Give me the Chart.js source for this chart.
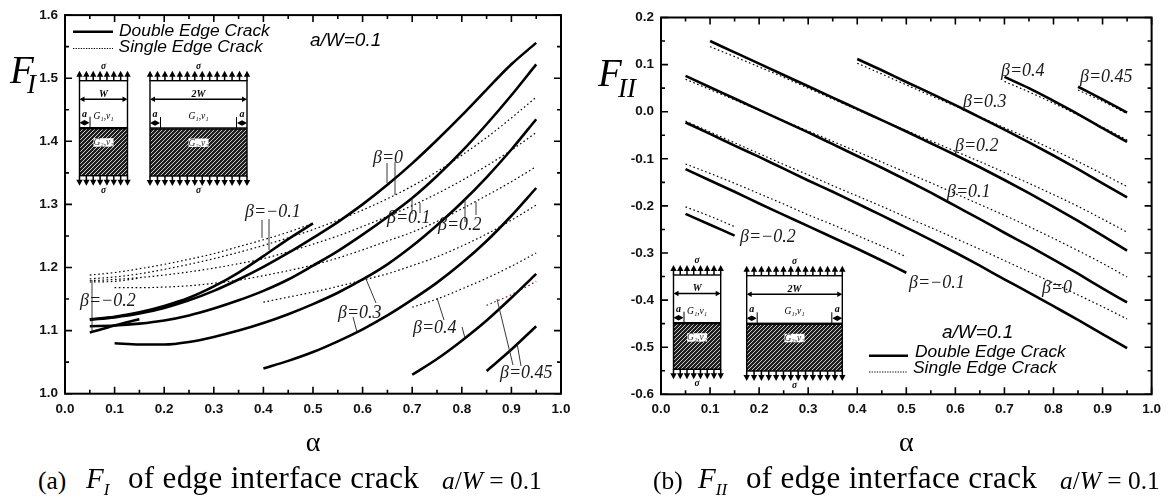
<!DOCTYPE html>
<html>
<head>
<meta charset="utf-8">
<title>Edge interface crack</title>
<script src="https://cdn.jsdelivr.net/npm/chart.js@4/dist/chart.umd.min.js"></script>
<style>
  html, body { margin: 0; padding: 0; background: #fff; }
  body { position: relative; width: 1168px; height: 500px; overflow: hidden; }
  canvas { position: absolute; top: 0; }
  #chartA { left: 0; }
  #chartB { left: 590px; }
  .cap { position: absolute; font-family: "Liberation Serif", serif; font-size: 25.4px; line-height: 40px; top: 459.6px; color: #000; white-space: pre; }
  .cap.big { font-size: 31px; top: 457.5px; letter-spacing: 0.35px; }
  .cap.name { font-size: 29px; top: 458px; }
  .cap i sub { font-size: 17px; line-height: 0; }
</style>
</head>
<body>
<canvas id="chartA" width="590" height="460"></canvas>
<canvas id="chartB" width="578" height="460"></canvas>
<div class="cap" style="left:38px">(a)</div>
<div class="cap name" style="left:86px"><i>F<sub>I</sub></i></div>
<div class="cap big" style="left:128px">of edge interface crack</div>
<div class="cap" style="left:442px"><i>a</i>/<i>W</i> = 0.1</div>
<div class="cap" style="left:653px">(b)</div>
<div class="cap name" style="left:698px"><i>F<sub>II</sub></i></div>
<div class="cap big" style="left:746px">of edge interface crack</div>
<div class="cap" style="left:1060px"><i>a</i>/<i>W</i> = 0.1</div>

<script>
// crack length ratio alpha, shared by every curve (null = curve not computed there)
const alpha = [0.05, 0.1, 0.15, 0.2, 0.25, 0.3, 0.35, 0.4, 0.45, 0.5, 0.55, 0.6, 0.65, 0.7, 0.75, 0.8, 0.85, 0.9, 0.95];
const _ = null;

const xTickLabels = ['0.0', '0.1', '0.2', '0.3', '0.4', '0.5', '0.6', '0.7', '0.8', '0.9', '1.0'];
const fiTickLabels = ['1.0', '1.1', '1.2', '1.3', '1.4', '1.5', '1.6'];
const fiiTickLabels = ['-0.6', '-0.5', '-0.4', '-0.3', '-0.2', '-0.1', '0.0', '0.1', '0.2'];

// panel (a) F_I, double edge crack
const fiDoubleM02 = [1.097, 1.108, 1.118];
const fiDoubleM01 = [1.118, 1.122, 1.129, 1.139, 1.152, 1.17, 1.192, 1.218, 1.245, 1.27];
const fiDouble00 = [1.117, 1.121, 1.127, 1.136, 1.148, 1.163, 1.181, 1.201, 1.223, 1.247, 1.272, 1.3, 1.331, 1.365, 1.402, 1.441, 1.482, 1.522, 1.556];
const fiDouble01 = [1.107, 1.108, 1.111, 1.116, 1.124, 1.135, 1.148, 1.163, 1.181, 1.203, 1.226, 1.252, 1.28, 1.31, 1.345, 1.384, 1.427, 1.473, 1.522];
const fiDouble02 = [_, 1.08, 1.078, 1.078, 1.082, 1.09, 1.1, 1.112, 1.126, 1.142, 1.16, 1.181, 1.205, 1.234, 1.267, 1.303, 1.343, 1.387, 1.435];
const fiDouble03 = [_, _, _, _, _, _, _, 1.04, 1.052, 1.066, 1.083, 1.102, 1.124, 1.149, 1.176, 1.207, 1.242, 1.282, 1.326];
const fiDouble04 = [_, _, _, _, _, _, _, _, _, _, _, _, _, 1.03, 1.055, 1.084, 1.116, 1.152, 1.19];
const fiDouble045 = [_, _, _, _, _, _, _, _, _, _, _, _, _, _, _, _, 1.036, 1.07, 1.107];

// panel (a) F_I, single edge crack
const fiSingleM02 = [1.177, 1.178, 1.183];
const fiSingleM01 = [1.188, 1.192, 1.198, 1.205, 1.213, 1.222, 1.233, 1.244, 1.256, 1.27];
const fiSingle00 = [1.182, 1.185, 1.19, 1.197, 1.205, 1.214, 1.224, 1.235, 1.247, 1.26, 1.275, 1.291, 1.309, 1.329, 1.352, 1.378, 1.406, 1.437, 1.47];
const fiSingle01 = [1.179, 1.181, 1.184, 1.188, 1.193, 1.199, 1.206, 1.214, 1.225, 1.237, 1.25, 1.265, 1.281, 1.298, 1.317, 1.338, 1.361, 1.386, 1.414];
const fiSingle02 = [_, 1.168, 1.168, 1.169, 1.171, 1.175, 1.18, 1.187, 1.195, 1.204, 1.215, 1.228, 1.242, 1.256, 1.273, 1.293, 1.314, 1.336, 1.36];
const fiSingle03 = [_, _, _, _, _, _, _, 1.145, 1.153, 1.161, 1.17, 1.18, 1.19, 1.203, 1.217, 1.234, 1.253, 1.275, 1.299];
const fiSingle04 = [_, _, _, _, _, _, _, _, _, _, _, _, _, 1.137, 1.15, 1.166, 1.183, 1.202, 1.223];
const fiSingle045 = [_, _, _, _, _, _, _, _, _, _, _, _, _, _, _, _, 1.14, 1.157, 1.178];

// panel (b) F_II, double edge crack
const fiiDoubleM02 = [-0.217, -0.24, -0.263];
const fiiDoubleM01 = [-0.122, -0.146, -0.17, -0.195, -0.219, -0.243, -0.267, -0.291, -0.316, -0.342];
const fiiDouble00 = [-0.023, -0.047, -0.072, -0.096, -0.121, -0.146, -0.17, -0.195, -0.22, -0.246, -0.272, -0.299, -0.327, -0.356, -0.384, -0.413, -0.442, -0.472, -0.502];
const fiiDouble01 = [0.076, 0.052, 0.028, 0.004, -0.02, -0.044, -0.069, -0.094, -0.119, -0.145, -0.172, -0.2, -0.228, -0.257, -0.285, -0.314, -0.344, -0.375, -0.405];
const fiiDouble02 = [_, 0.15, 0.126, 0.102, 0.078, 0.054, 0.03, 0.006, -0.018, -0.042, -0.067, -0.092, -0.118, -0.145, -0.173, -0.202, -0.232, -0.263, -0.295];
const fiiDouble03 = [_, _, _, _, _, _, _, 0.112, 0.088, 0.063, 0.039, 0.014, -0.012, -0.038, -0.065, -0.093, -0.122, -0.152, -0.182];
const fiiDouble04 = [_, _, _, _, _, _, _, _, _, _, _, _, _, 0.074, 0.05, 0.023, -0.005, -0.035, -0.064];
const fiiDouble045 = [_, _, _, _, _, _, _, _, _, _, _, _, _, _, _, _, 0.053, 0.026, -0.002];

// panel (b) F_II, single edge crack
const fiiSingleM02 = [-0.202, -0.222, -0.244];
const fiiSingleM01 = [-0.111, -0.131, -0.152, -0.174, -0.196, -0.219, -0.24, -0.263, -0.285, -0.308];
const fiiSingle00 = [-0.02, -0.043, -0.066, -0.089, -0.112, -0.134, -0.157, -0.179, -0.201, -0.224, -0.246, -0.269, -0.292, -0.316, -0.34, -0.364, -0.389, -0.414, -0.44];
const fiiSingle01 = [0.069, 0.047, 0.025, 0.003, -0.019, -0.041, -0.063, -0.085, -0.107, -0.129, -0.151, -0.174, -0.197, -0.22, -0.244, -0.269, -0.295, -0.322, -0.351];
const fiiSingle02 = [_, 0.138, 0.117, 0.095, 0.073, 0.05, 0.027, 0.004, -0.018, -0.04, -0.062, -0.084, -0.106, -0.129, -0.152, -0.176, -0.201, -0.228, -0.256];
const fiiSingle03 = [_, _, _, _, _, _, _, 0.103, 0.08, 0.057, 0.034, 0.012, -0.011, -0.034, -0.057, -0.081, -0.106, -0.132, -0.159];
const fiiSingle04 = [_, _, _, _, _, _, _, _, _, _, _, _, _, 0.064, 0.042, 0.018, -0.007, -0.033, -0.06];
const fiiSingle045 = [_, _, _, _, _, _, _, _, _, _, _, _, _, _, _, _, 0.046, 0.022, -0.004];

const legendDouble = 'Double Edge Crack';
const legendSingle = 'Single Edge Crack';
const ratioLabel = 'a/W=0.1';

// curve labels and their leader lines, in canvas pixels
const betaLabelsA = [
  ['β=−0.1', 245, 217], ['β=0', 373, 163], ['β=0.1', 387, 223], ['β=0.2', 438, 230],
  ['β=0.3', 338, 318], ['β=0.4', 413, 333], ['β=0.45', 500, 378], ['β=−0.2', 80, 306]
];
const leadersA = [
  [262, 220, 262, 238], [269, 219, 269, 250], [387, 163, 387, 183], [395, 162, 395, 195],
  [412, 197, 412, 214], [420, 203, 420, 213], [465, 198, 465, 222], [476, 202, 476, 215],
  [366, 279, 376, 303], [353, 317, 357, 332], [437, 298, 444, 320], [462, 327, 465, 338],
  [497, 299, 513, 365], [517, 343, 521, 366], [92, 280, 92, 332]
];
const betaLabelsB = [
  ['β=−0.2', 150, 242], ['β=−0.1', 319, 288], ['β=0', 452, 293], ['β=0.1', 357, 197],
  ['β=0.2', 365, 151], ['β=0.3', 373, 107], ['β=0.4', 411, 76], ['β=0.45', 490, 82]
];

function series(values, solid, color) {
  const pts = [];
  values.forEach((v, i) => { if (v !== null) pts.push({ x: alpha[i], y: v }); });
  return {
    data: pts,
    showLine: true,
    pointRadius: 0,
    cubicInterpolationMode: 'monotone',
    borderColor: color || '#000',
    borderWidth: solid ? 2.6 : 1.2,
    borderDash: solid ? [] : [1.6, 2.6],
    borderCapStyle: 'butt'
  };
}

function hatch(ctx) {
  const t = document.createElement('canvas');
  t.width = 4; t.height = 4;
  const c = t.getContext('2d');
  c.fillStyle = '#1f1f1f';
  c.fillRect(0, 0, 4, 4);
  c.strokeStyle = '#ddd';
  c.lineWidth = 0.9;
  c.beginPath();
  c.moveTo(-1, 1); c.lineTo(1, -1);
  c.moveTo(-1, 5); c.lineTo(5, -1);
  c.moveTo(3, 5); c.lineTo(5, 3);
  c.stroke();
  return ctx.createPattern(t, 'repeat');
}

function arrowV(ctx, x, y0, y1) {
  const d = y1 > y0 ? 1 : -1;
  ctx.beginPath();
  ctx.moveTo(x, y0); ctx.lineTo(x, y1 - d * 3); ctx.stroke();
  ctx.beginPath();
  ctx.moveTo(x, y1); ctx.lineTo(x - 3.2, y1 - d * 6); ctx.lineTo(x + 3.2, y1 - d * 6); ctx.closePath(); ctx.fill();
}

function arrowH(ctx, x0, x1, y) {
  ctx.beginPath();
  ctx.moveTo(x0 + 2, y); ctx.lineTo(x1 - 2, y); ctx.stroke();
  ctx.beginPath();
  ctx.moveTo(x0, y); ctx.lineTo(x0 + 5, y - 2.8); ctx.lineTo(x0 + 5, y + 2.8); ctx.closePath();
  ctx.moveTo(x1, y); ctx.lineTo(x1 - 5, y - 2.8); ctx.lineTo(x1 - 5, y + 2.8); ctx.closePath();
  ctx.fill();
}

// little specimen sketch with the load arrows
function drawSpecimen(ctx, s) {
  const { left, right, top, iface, bottom, n, both, widthLabel } = s;
  const mid = (left + right) / 2;
  ctx.save();
  ctx.strokeStyle = '#000';
  ctx.fillStyle = '#000';

  ctx.fillStyle = hatch(ctx);
  ctx.fillRect(left, iface + 1, right - left, bottom - iface - 1);
  ctx.fillStyle = '#000';
  ctx.lineWidth = 1.4;
  ctx.strokeRect(left, top, right - left, iface - top);
  ctx.strokeRect(left, iface + 1, right - left, bottom - iface - 1);

  ctx.lineWidth = 1.5;
  for (let i = 0; i < n; i++) {
    const x = left + (right - left) * i / (n - 1);
    arrowV(ctx, x, top, top - 10);
    arrowV(ctx, x, bottom, bottom + 10);
  }
  ctx.lineWidth = 1.6;
  arrowH(ctx, left, right, top + 18.5);

  // crack markers
  arrowH(ctx, left, left + 10, iface - 5);
  ctx.lineWidth = 1;
  ctx.beginPath(); ctx.moveTo(left + 10.5, iface - 11); ctx.lineTo(left + 10.5, iface); ctx.stroke();
  if (both) {
    ctx.lineWidth = 1.6;
    arrowH(ctx, right - 10, right, iface - 5);
    ctx.lineWidth = 1;
    ctx.beginPath(); ctx.moveTo(right - 10.5, iface - 11); ctx.lineTo(right - 10.5, iface); ctx.stroke();
  }

  ctx.textAlign = 'center';
  ctx.font = 'italic bold 9.5px "Liberation Serif"';
  ctx.fillText('σ', mid, top - 12);
  ctx.fillText('σ', mid, bottom + 17);
  ctx.font = 'italic bold 10px "Liberation Serif"';
  ctx.fillText(widthLabel, mid, top + 16);
  ctx.fillText('a', left + 5, iface - 11);
  if (both) ctx.fillText('a', right - 5, iface - 11);

  ctx.font = 'italic 9.5px "Liberation Serif"';
  ctx.fillText('G\u2081,ν\u2081', mid, iface - 9);
  ctx.fillStyle = '#fff';
  ctx.fillRect(mid - 10, iface + 10.5, 20, 8.5);
  ctx.fillStyle = '#333';
  ctx.fillText('G\u2082,ν\u2082', mid, iface + 17.5);
  ctx.restore();
}

function drawAxes(chart) {
  const ctx = chart.ctx, a = chart.chartArea;
  const xs = chart.scales.x, ys = chart.scales.y;
  ctx.save();
  ctx.strokeStyle = '#000';
  ctx.lineWidth = 1.6;
  ctx.beginPath();
  xs.ticks.forEach(t => {
    [[t.value, 7], [t.value + 0.05, 4]].forEach(([val, len]) => {
      if (val > xs.max + 1e-6) return;
      const px = xs.getPixelForValue(val);
      ctx.moveTo(px, a.bottom); ctx.lineTo(px, a.bottom - len);
      ctx.moveTo(px, a.top); ctx.lineTo(px, a.top + len);
    });
  });
  const minorStep = (ys.ticks[1].value - ys.ticks[0].value) / 2;
  ys.ticks.forEach(t => {
    [[t.value, 7], [t.value + minorStep, 4]].forEach(([val, len]) => {
      if (val > ys.max + 1e-6) return;
      const py = ys.getPixelForValue(val);
      ctx.moveTo(a.left, py); ctx.lineTo(a.left + len, py);
      ctx.moveTo(a.right, py); ctx.lineTo(a.right - len, py);
    });
  });
  ctx.stroke();
  ctx.lineWidth = 2;
  ctx.strokeRect(a.left, a.top, a.right - a.left, a.bottom - a.top);
  ctx.restore();
}

function drawNotes(chart, notes) {
  const ctx = chart.ctx;
  ctx.save();
  ctx.fillStyle = '#1a1a1a';
  ctx.textAlign = 'left';
  ctx.textBaseline = 'alphabetic';

  // leader lines go under the labels
  ctx.strokeStyle = '#222';
  ctx.lineWidth = 0.9;
  ctx.beginPath();
  notes.leaders.forEach(l => { ctx.moveTo(l[0], l[1]); ctx.lineTo(l[2], l[3]); });
  ctx.stroke();

  ctx.font = 'italic 18px "Liberation Serif"';
  notes.labels.forEach(l => ctx.fillText(l[0], l[1], l[2]));

  // legend
  ctx.fillStyle = '#000';
  ctx.strokeStyle = '#000';
  ctx.lineWidth = 2.6;
  ctx.beginPath(); ctx.moveTo(notes.lineX[0], notes.lineY[0]); ctx.lineTo(notes.lineX[1], notes.lineY[0]); ctx.stroke();
  ctx.lineWidth = 1;
  ctx.setLineDash([1.3, 1.3]);
  ctx.beginPath(); ctx.moveTo(notes.lineX[0], notes.lineY[1]); ctx.lineTo(notes.lineX[1], notes.lineY[1]); ctx.stroke();
  ctx.setLineDash([]);
  ctx.font = 'italic 17.4px "Liberation Sans"';
  ctx.fillText(legendDouble, notes.textX[0], notes.textY[0]);
  ctx.fillText(legendSingle, notes.textX[1], notes.textY[1]);
  ctx.font = 'italic 19px "Liberation Sans"';
  ctx.fillText(ratioLabel, notes.ratio[0], notes.ratio[1]);

  // F_I / F_II axis name
  ctx.font = 'italic 39px "Liberation Serif"';
  ctx.fillText('F', notes.f[0], notes.f[1]);
  ctx.font = 'italic 27px "Liberation Serif"';
  ctx.fillText(notes.fsub, notes.f[2], notes.f[3]);

  notes.specimens.forEach(s => drawSpecimen(ctx, s));
  ctx.restore();
}

function makeChart(id, datasets, yTicks, pad, yWidth, xHeight, notes) {
  return new Chart(document.getElementById(id), {
    type: 'scatter',
    data: { datasets },
    options: {
      responsive: false,
      animation: false,
      layout: { padding: pad },
      plugins: { legend: { display: false }, tooltip: { enabled: false } },
      scales: {
        x: {
          type: 'linear', min: 0, max: 1,
          afterBuildTicks: s => { s.ticks = xTickLabels.map(l => ({ value: Number(l) })); },
          afterFit: s => { s.height = xHeight; },
          grid: { display: false, drawTicks: false },
          border: { display: false },
          ticks: { padding: 7, maxRotation: 0, autoSkip: false, color: '#111',
            font: { family: '"Liberation Sans"', size: 13.5, weight: 'bold' },
            callback: v => Number(v).toFixed(1) },
          title: { display: true, text: 'α', color: '#000', padding: { top: 0, bottom: 0 },
            font: { family: '"Liberation Serif"', size: 28 } }
        },
        y: {
          type: 'linear', min: Number(yTicks[0]), max: Number(yTicks[yTicks.length - 1]),
          afterBuildTicks: s => { s.ticks = yTicks.map(l => ({ value: Number(l) })); },
          afterFit: s => { s.width = yWidth; },
          grid: { display: false, drawTicks: false },
          border: { display: false },
          ticks: { padding: 7, autoSkip: false, color: '#111',
            font: { family: '"Liberation Sans"', size: 13.5, weight: 'bold' },
            callback: v => Number(v).toFixed(1) }
        }
      }
    },
    plugins: [{
      id: 'paperFrame',
      afterDraw(chart) {
        drawAxes(chart);
        drawNotes(chart, notes);
      }
    }]
  });
}

makeChart('chartA', [
  series(fiDoubleM02, true), series(fiDoubleM01, true), series(fiDouble00, true), series(fiDouble01, true),
  series(fiDouble02, true), series(fiDouble03, true), series(fiDouble04, true), series(fiDouble045, true),
  series(fiSingleM02), series(fiSingleM01), series(fiSingle00), series(fiSingle01),
  series(fiSingle02), series(fiSingle03), series(fiSingle04), series(fiSingle045, false, '#7a1f1f')
], fiTickLabels, { top: 13.5, right: 29 }, 65, 66.3, {
  labels: betaLabelsA, leaders: leadersA,
  lineX: [73, 113], lineY: [31.7, 48.5], textX: [119, 118.6], textY: [36, 52], ratio: [310, 46],
  f: [10, 83, 27, 93], fsub: 'I',
  specimens: [
    { left: 79.5, right: 127.5, top: 80.7, iface: 127.7, bottom: 175.7, n: 8, both: false, widthLabel: 'W' },
    { left: 150, right: 247, top: 80.7, iface: 128, bottom: 176, n: 14, both: true, widthLabel: '2W' }
  ]
});

makeChart('chartB', [
  series(fiiDoubleM02, true), series(fiiDoubleM01, true), series(fiiDouble00, true), series(fiiDouble01, true),
  series(fiiDouble02, true), series(fiiDouble03, true), series(fiiDouble04, true), series(fiiDouble045, true),
  series(fiiSingleM02), series(fiiSingleM01), series(fiiSingle00), series(fiiSingle01),
  series(fiiSingle02), series(fiiSingle03), series(fiiSingle04), series(fiiSingle045)
], fiiTickLabels, { top: 17.5, right: 15.3 }, 71, 65.7, {
  labels: betaLabelsB, leaders: [],
  lineX: [279, 318], lineY: [355.7, 372], textX: [325, 323], textY: [357, 373], ratio: [352, 338],
  f: [8, 86, 28, 97], fsub: 'II',
  specimens: [
    { left: 83.5, right: 130.7, top: 275, iface: 322.7, bottom: 369.3, n: 8, both: false, widthLabel: 'W' },
    { left: 156.7, right: 252.3, top: 275.7, iface: 323.3, bottom: 371, n: 14, both: true, widthLabel: '2W' }
  ]
});
</script>
</body>
</html>
